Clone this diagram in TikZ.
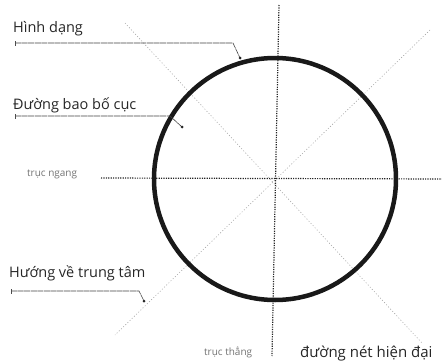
\documentclass[tikz,border=0pt]{standalone}
\usepackage{fontspec}
\setmainfont{Open Sans}
\begin{document}
\begin{tikzpicture}[x=1pt,y=-1pt,
  lbl/.style={anchor=base west,inner sep=0pt,font=\fontsize{14.5}{16}\selectfont,text=black!85},
  small/.style={anchor=base west,inner sep=0pt,font=\fontsize{10}{12}\selectfont,text=black!55},
  leader/.style={draw=black!75,line width=0.6pt,dash pattern=on 6pt off 0.6pt},
  axis/.style={draw=black!85,line width=1.2pt,dash pattern=on 1.2pt off 1.2pt},
  diag/.style={draw=black!35,line width=0.6pt,dash pattern=on 1pt off 2pt}]
\useasboundingbox (0,0) rectangle (442,364);
\coordinate (c) at (275,179);
% axes
\coordinate (vt) at (279,5);
\coordinate (vb) at (272,356);
\coordinate (hl) at (101,178);
\coordinate (hr) at (442,179);
\coordinate (d1a) at (125,23);
\coordinate (d1b) at (422,343);
\coordinate (d2a) at (430,30);
\coordinate (d2b) at (115,335);
\draw[diag] (d1a) -- (d1b);
\draw[diag] (d2a) -- (d2b);
\draw[axis] (vt) -- (vb);
\draw[axis] (hl) -- (hr);
% circle
\node[circle,draw=black!90,line width=4.5pt,minimum size=242pt,inner sep=0pt] (circ) at (c) {};
% labels
\node[lbl] (hd) at (13,32) {Hình dạng};
\node[lbl] (db) at (13,109) {Đường bao bố cục};
\node[lbl] (hv) at (9,277) {Hướng về trung tâm};
\node[small] (tn) at (27,176) {trục ngang};
\node[small] (tt) at (204,355) {trục thẳng};
\node[lbl,font=\fontsize{15}{18}\selectfont] (nh) at (300,357) {đường nét hiện đại};
% leaders
\coordinate (l1s) at (15,43);
\coordinate (l1m) at (233,43);
\coordinate (l1e) at (240,58);
\coordinate (l2s) at (15,116);
\coordinate (l2m) at (170,116);
\coordinate (l2e) at (182,127);
\coordinate (l3s) at (11,291);
\coordinate (l3m) at (139,291);
\coordinate (l3e) at (144,301);
\draw[leader] (l1s) -- (l1m) -- (l1e);
\draw[leader] (l2s) -- (l2m) -- (l2e);
\draw[leader] (l3s) -- (l3m) -- (l3e);
\foreach \p in {l1s,l2s,l3s} \draw[black!70,line width=0.6pt] ([yshift=-2.5pt]\p) -- ([yshift=2.5pt]\p);
\foreach \p in {l1e,l2e,l3e} \fill[black!85] (\p) circle (1.5pt);
\end{tikzpicture}
\end{document}
